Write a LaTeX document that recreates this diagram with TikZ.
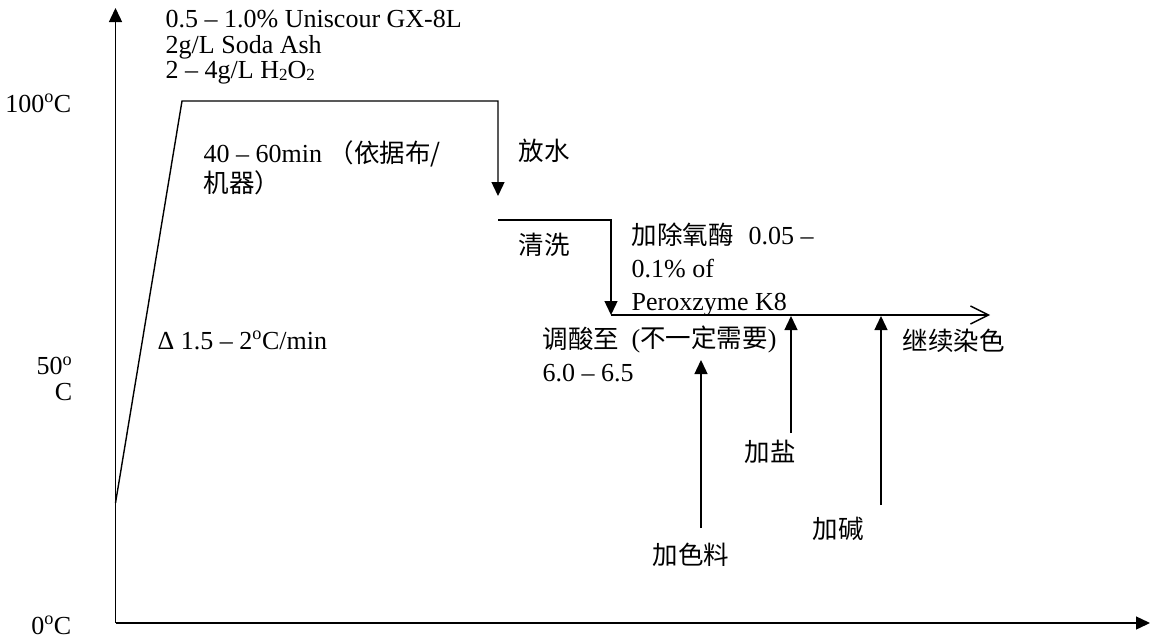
\documentclass[tikz,border=0pt]{standalone}
\usepackage{fontspec}
\setmainfont{Liberation Serif}
\newfontfamily\cjk{Noto Sans CJK SC}
\usetikzlibrary{arrows.meta}
\newcommand\zh[1]{{\cjk\fontsize{25.5}{33}\selectfont #1}}
\newcommand\lowtwo{\raisebox{-2pt}{\fontsize{17}{17}\selectfont 2}}
\begin{document}
\begin{tikzpicture}[x=1pt,y=-1pt, line width=1.4pt,
  txt/.style={inner sep=0pt, anchor=base west, align=left, font=\fontsize{26}{25.3}\selectfont},
  txtz/.style={txt, font=\fontsize{26}{33}\selectfont},
  lbl/.style={inner sep=0pt, anchor=base east, align=right, font=\fontsize{26}{25.3}\selectfont},
  tip/.style={-{Triangle[length=14pt,width=13pt]}},
  open/.style={-{Straight Barb[length=18pt,width=18pt,line width=1.4pt]}}]
\useasboundingbox (0,0) rectangle (1151,640);
% axes
\coordinate (o) at (115.5,623);
\coordinate (ytip) at (115.5,8);
\coordinate (xtip) at (1150,623);
\draw[tip] (o) -- (ytip);
\draw[tip] (o) -- (xtip);
% profile
\coordinate (p0) at (115.5,503);
\coordinate (p1) at (182,101);
\coordinate (p2) at (498,101);
\coordinate (p3) at (498,196);
\coordinate (p4) at (498,220);
\coordinate (p5) at (611,220);
\coordinate (p6) at (611,315);
\coordinate (p7) at (990,315);
\draw[tip] (p0) -- (p1) -- (p2) -- (p3);
\draw[tip] (p4) -- (p5) -- (p6);
\draw[open] (p6) -- (p7);
% additions
\coordinate (a1s) at (701,528); \coordinate (a1e) at (701,360);
\coordinate (a2s) at (791,433); \coordinate (a2e) at (791,316);
\coordinate (a3s) at (881,505); \coordinate (a3e) at (881,316);
\draw[tip] (a1s) -- (a1e);
\draw[tip] (a2s) -- (a2e);
\draw[tip] (a3s) -- (a3e);
% axis labels
\node[lbl] (t100) at (72,112) {100\textsuperscript{o}C};
\node[lbl] (t50) at (73,400) {50\textsuperscript{o}\\C};
\node[lbl] (t0) at (72,634) {0\textsuperscript{o}C};
% texts
\node[txt] (chem) at (165,78.3) {0.5 -- 1.0\% Uniscour GX-8L\\2g/L Soda Ash\\2 -- 4g/L H\lowtwo O\lowtwo};
\node[txt, font=\fontsize{26}{30}\selectfont] (time) at (203,192) {40 -- 60min \zh{（依据布/}\\\zh{机器）}};
\node[txt] (rate) at (157,349) {Δ 1.5 -- 2\textsuperscript{o}C/min};
\node[txt] (drain) at (518,160) {\zh{放水}};
\node[txt] (wash) at (518,254) {\zh{清洗}};
\node[txtz] (enz) at (631,310) {\zh{加除氧酶}\hspace{15pt}0.05 --\\0.1\% of\\Peroxzyme K8};
\node[txt] (opt) at (631,347) {(\zh{不一定需要})};
\node[txtz] (acid) at (542,381) {\zh{调酸至}\\6.0 -- 6.5};
\node[txt] (cont) at (902,350) {\zh{继续染色}};
\node[txt] (salt) at (744,461) {\zh{加盐}};
\node[txt] (alk) at (812,538) {\zh{加碱}};
\node[txt] (dye) at (652,564) {\zh{加色料}};
\end{tikzpicture}
\end{document}
